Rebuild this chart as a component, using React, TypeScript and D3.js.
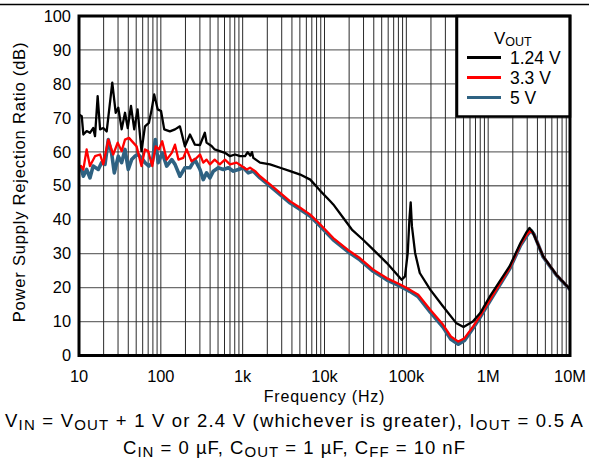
import React from "react";
import * as d3 from "d3";

type P = [number, number];

const xTickValues = [10, 100, 1e3, 1e4, 1e5, 1e6, 1e7];
const xTickLabels = ["10", "100", "1k", "10k", "100k", "1M", "10M"];
const yTickValues = [0, 10, 20, 30, 40, 50, 60, 70, 80, 90, 100];

const seriesNames = ["1.24 V", "3.3 V", "5 V"];
const seriesColors = ["#000000", "#ff0000", "#2f6282"];

const vout124: P[] = [
  [10, 71], [10.8, 70.5], [11.3, 65.1], [12.4, 66.1], [13.6, 65.6], [14.9, 67], [15.7, 64.6],
  [16.9, 76.4], [18.1, 66.6], [19.8, 67], [21.8, 66], [25.5, 80.4], [28.1, 71.5], [30.2, 73],
  [33.2, 66.6], [36.5, 71.5], [39.4, 67], [43.2, 73.5], [47.3, 66.6], [52, 72.5], [58, 60.2],
  [64, 67.5], [71.5, 68.5], [77.3, 72.5], [83, 76.9], [91.5, 72.5], [100.6, 72], [110, 66.6],
  [129, 66], [149, 66.6], [171, 67.5], [197, 61.6], [227, 65.1], [261, 62.1], [301, 62],
  [345, 65.6], [362, 62.7], [417, 61.7], [455, 60.7], [525, 60.2], [607, 59.7], [700, 58.7],
  [807, 59.2], [930, 58.7], [1070, 58.7], [1150, 59.9], [1240, 58.9], [1300, 59.9], [1350, 58.2],
  [1630, 56.8], [2160, 56.3], [2870, 55.3], [3810, 54.3], [5050, 53.3], [6700, 51.8],
  [8880, 48.5], [11700, 45.5], [12800, 44.5], [17000, 40.5], [21600, 37.1], [29600, 34.1],
  [39400, 31.2], [57500, 27.3], [87700, 22.3], [96300, 23.3], [104000, 30.2], [109000, 40],
  [113000, 45.1], [117000, 38.1], [128000, 30.2], [146000, 24.3], [196000, 19.4],
  [280000, 14.5], [405000, 9.6], [500000, 8.4], [650000, 10], [800000, 12.5],
  [1050000, 17.4], [1830000, 26.3], [2490000, 33.2], [2900000, 36.1], [3200000, 37.6],
  [3500000, 36.4], [4700000, 29.2], [6800000, 23.8], [10000000, 19.5],
];

const vout33: P[] = [
  [10, 55.5], [10.6, 55.8], [11.3, 54.8], [12.4, 60.7], [13.6, 55.8], [15.7, 58.7], [18.1, 59.2],
  [19.8, 56.3], [22.8, 63.6], [26.2, 59.2], [29.7, 62.7], [33.2, 60.2], [36.5, 63.6], [40.8, 64.1],
  [46, 62.7], [50.6, 61.6], [58, 55.8], [64, 60.7], [70, 60.2], [78.5, 55.8], [86.5, 61.6],
  [95, 60.7], [104, 63.1], [118, 57.7], [136, 59.7], [149, 62.1], [164, 57.7], [188, 58.2],
  [207, 60.7], [237, 57.2], [274, 58.2], [301, 59.2], [330, 56.8], [362, 57.7], [398, 56.3],
  [455, 57.7], [525, 56.3], [607, 57.7], [700, 56.3], [842, 56.8], [970, 55.8], [1120, 54.8],
  [1230, 55.3], [1420, 54.3], [1630, 52.8], [2160, 50.4], [2870, 47.9], [3810, 45.4],
  [5050, 43.5], [6700, 41.5], [8880, 38.6], [12800, 34.6], [20400, 30.7], [27000, 28.7],
  [39400, 25.3], [57500, 22.8], [84000, 20.9], [110000, 19.4], [140000, 17.9], [196000, 13.5],
  [280000, 9.1], [350000, 5.6], [432000, 4.1], [514000, 5.1], [656000, 8.6], [790000, 11.5],
  [1050000, 16.4], [1830000, 25.8], [2490000, 32.8], [3000000, 35.8], [3300000, 36.9],
  [3600000, 35.8], [4700000, 29.2], [6800000, 23.8], [10000000, 19.5],
];

const vout5: P[] = [
  [10, 55.5], [10.6, 55.3], [11.3, 52.8], [12.4, 54.8], [13.6, 52.3], [14.9, 55.8], [17.2, 54.8],
  [18.9, 56.8], [20.8, 56.3], [22.8, 63.6], [25, 59.7], [27, 53.8], [30.2, 58.7], [33.2, 56.8],
  [36.5, 60.7], [40, 54.8], [44, 57.7], [48.2, 58.7], [53, 59.2], [58, 58.2], [64, 56.8],
  [71.5, 55.8], [78.5, 56.8], [85.7, 63.6], [93, 56.8], [104, 59.7], [118, 55.8], [136, 57.7],
  [149, 56.3], [171, 52.8], [197, 55.3], [227, 55.3], [261, 57.7], [301, 54.8], [330, 51.8],
  [362, 53.8], [398, 52.3], [438, 54.3], [503, 55.3], [580, 54.8], [670, 55.3], [770, 54.3],
  [885, 54.8], [1020, 55.3], [1170, 53.8], [1350, 54.3], [1630, 52.3], [2160, 49.9],
  [2870, 47.4], [3810, 44.9], [5050, 43], [6700, 41], [8880, 38.1], [12800, 34.1],
  [20400, 30.2], [27000, 28.2], [39400, 24.8], [57500, 22.3], [84000, 20.4], [110000, 18.9],
  [140000, 17.3], [196000, 12.8], [280000, 8.4], [350000, 4.8], [432000, 3.3], [514000, 4.4],
  [656000, 8.1], [790000, 11.1], [1050000, 16], [1830000, 25.5], [2490000, 32.5],
  [3050000, 35.7], [3350000, 36.8], [3650000, 35.6], [4700000, 29], [6800000, 23.7],
  [10000000, 19.4],
];

const seriesData = [vout124, vout33, vout5];

const W = 589;
const H = 460;
const left = 79;
const right = 570;
const top = 16;
const bottom = 355.5;
const FONT = "'Liberation Sans', Arial, Helvetica, sans-serif";

export default function App() {
  const x = d3.scaleLog().domain([10, 1e7]).range([left, right]);
  const y = d3.scaleLinear().domain([0, 100]).range([bottom, top]);
  const line = d3
    .line<P>()
    .x((d) => x(d[0]))
    .y((d) => y(d[1]));

  const minorX: number[] = [];
  for (let dec = 10; dec < 1e7; dec *= 10) {
    for (let k = 1; k <= 9; k++) minorX.push(dec * k);
  }
  minorX.push(1e7);

  const drawOrder = [2, 1, 0];
  const widths = [2.3, 2.3, 3.6];

  return (
    <svg
      width={W}
      height={H}
      style={{ position: "absolute", left: 0, top: 0, background: "#fff" }}
      fontFamily={FONT}
    >
      <rect x={0} y={0} width={W} height={H} fill="#fff" />
      <line x1={0} x2={W} y1={4.5} y2={4.5} stroke="#000" strokeWidth={1.3} />
      <defs>
        <clipPath id="plotclip">
          <rect x={left} y={top} width={right - left} height={bottom - top} />
        </clipPath>
      </defs>
      {/* grid */}
      {yTickValues.map((v) => (
        <line key={"h" + v} x1={left} x2={right} y1={y(v)} y2={y(v)} stroke="#6e6e6e" strokeWidth={1.3} />
      ))}
      {minorX.map((v, i) => (
        <line key={"v" + i} x1={x(v)} x2={x(v)} y1={top} y2={bottom} stroke="#2a2a2a" strokeWidth={1} />
      ))}
      {/* series */}
      <g clipPath="url(#plotclip)">
        {drawOrder.map((i) => (
          <path
            key={"s" + i}
            d={line(seriesData[i]) || ""}
            fill="none"
            stroke={seriesColors[i]}
            strokeWidth={widths[i]}
            strokeLinejoin="round"
            strokeLinecap="round"
          />
        ))}
      </g>
      {/* legend */}
      <rect x={457} y={top} width={right - 457} height={100.5} fill="#fff" stroke="#000" strokeWidth={2.5} />
      <text x={494} y={43.5} fontSize={17} fill="#000">
        V<tspan fontSize={12.5} dy={2}>OUT</tspan>
      </text>
      {seriesNames.map((n, i) => (
        <g key={"lg" + i}>
          <line x1={467} x2={501} y1={57.5 + i * 20} y2={57.5 + i * 20} stroke={seriesColors[i]} strokeWidth={3} />
          <text x={510} y={63.5 + i * 20} fontSize={17.5} fill="#000">
            {n}
          </text>
        </g>
      ))}
      {/* frame */}
      <rect x={left} y={top} width={right - left} height={bottom - top} fill="none" stroke="#000" strokeWidth={3} />
      {/* y ticks */}
      {yTickValues.map((v) => (
        <text key={"yt" + v} x={71} y={y(v)} dy="0.35em" textAnchor="end" fontSize={16.4} fill="#000">
          {v}
        </text>
      ))}
      {/* x ticks */}
      {xTickValues.map((v, i) => (
        <text key={"xt" + v} x={x(v)} y={381.5} textAnchor="middle" fontSize={16.4} fill="#000">
          {xTickLabels[i]}
        </text>
      ))}
      <text x={(left + right) / 2} y={402} textAnchor="middle" fontSize={16} letterSpacing={0.8} fill="#000">
        Frequency (Hz)
      </text>
      <text
        transform={`translate(25,182) rotate(-90)`}
        textAnchor="middle"
        fontSize={16.5}
        letterSpacing={0.8}
        fill="#000"
      >
        Power Supply Rejection Ratio (dB)
      </text>
      <text x={294.5} y={426.7} textAnchor="middle" fontSize={18.5} letterSpacing={1.2} fill="#000">
        V<tspan fontSize={15} dy={3.3}>IN</tspan>
        <tspan dy={-3.3}> = V</tspan>
        <tspan fontSize={15} dy={3.3}>OUT</tspan>
        <tspan dy={-3.3}> + 1 V or 2.4 V (whichever is greater), I</tspan>
        <tspan fontSize={15} dy={3.3}>OUT</tspan>
        <tspan dy={-3.3}> = 0.5 A</tspan>
      </text>
      <text x={294.5} y={454} textAnchor="middle" fontSize={18.5} letterSpacing={1} fill="#000">
        C<tspan fontSize={15} dy={3.3}>IN</tspan>
        <tspan dy={-3.3}> = 0 µF, C</tspan>
        <tspan fontSize={15} dy={3.3}>OUT</tspan>
        <tspan dy={-3.3}> = 1 µF, C</tspan>
        <tspan fontSize={15} dy={3.3}>FF</tspan>
        <tspan dy={-3.3}> = 10 nF</tspan>
      </text>
    </svg>
  );
}
